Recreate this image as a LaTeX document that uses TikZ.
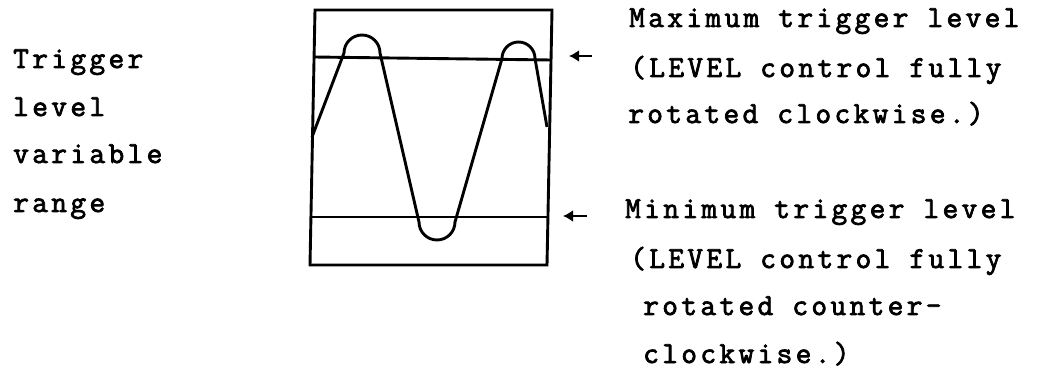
\documentclass[tikz,border=0pt]{standalone}
\usepackage{fontspec}
\newfontfamily\typefont{Latin Modern Mono}[LetterSpace=11,FakeBold=2.5]
\usetikzlibrary{arrows.meta}
\begin{document}
\begin{tikzpicture}[x=1pt,y=1pt,
  lbl/.style={inner sep=0pt,anchor=base west,font=\typefont\fontsize{30.5}{30}\selectfont},
  frame/.style={line width=2.9pt,line join=miter},
  trace/.style={line width=2.9pt,line join=round},
  pointer/.style={line width=2.9pt,-{Latex[length=10pt,width=12pt]}}]
\useasboundingbox (0,0) rectangle (1039,-371);
% screen frame
\coordinate (tl) at (315,-10);
\coordinate (tr) at (552,-10);
\coordinate (br) at (547,-265);
\coordinate (bl) at (310,-265);
\draw[frame] (tl) -- (tr) -- (br) -- (bl) -- cycle;
% trigger level lines
\coordinate (ul) at (314,-57);
\coordinate (ur) at (551,-60);
\coordinate (ll) at (311,-217);
\coordinate (lr) at (548,-217);
\draw[frame] (ul) -- (ur);
\draw[frame] (ll) -- (lr);
% waveform
\coordinate (w0) at (312,-137);
\coordinate (p1a) at (344,-53);
\coordinate (t1a) at (419,-222);
\coordinate (p2a) at (502,-58.5);
\coordinate (w1) at (547,-127);
\draw[trace] (w0) -- (p1a) arc[start angle=180,end angle=0,radius=18pt]
  -- (t1a) arc[start angle=180,end angle=360,radius=18pt]
  -- (p2a) arc[start angle=180,end angle=0,radius=16.5pt]
  -- (w1);
% pointers
\coordinate (a1s) at (592,-56);
\coordinate (a1e) at (569,-56);
\coordinate (a2s) at (587,-216);
\coordinate (a2e) at (563,-216);
\draw[pointer] (a1s) -- (a1e);
\draw[pointer] (a2s) -- (a2e);
% left text
\node[lbl] (l1) at (13,-68) {Trigger};
\node[lbl] (l2) at (13,-116) {level};
\node[lbl] (l3) at (13,-163) {variable};
\node[lbl] (l4) at (13,-212) {range};
% right text, upper
\node[lbl] (m1) at (629,-27) {Maximum trigger level};
\node[lbl] (m2) at (630,-77) {(LEVEL control fully};
\node[lbl] (m3) at (628,-123) {rotated clockwise.)};
% right text, lower
\node[lbl] (n1) at (625,-218) {Minimum trigger level};
\node[lbl] (n2) at (630,-268) {(LEVEL control fully};
\node[lbl] (n3) at (643,-315) {rotated counter-};
\node[lbl] (n4) at (643,-363) {clockwise.)};
\end{tikzpicture}
\end{document}
